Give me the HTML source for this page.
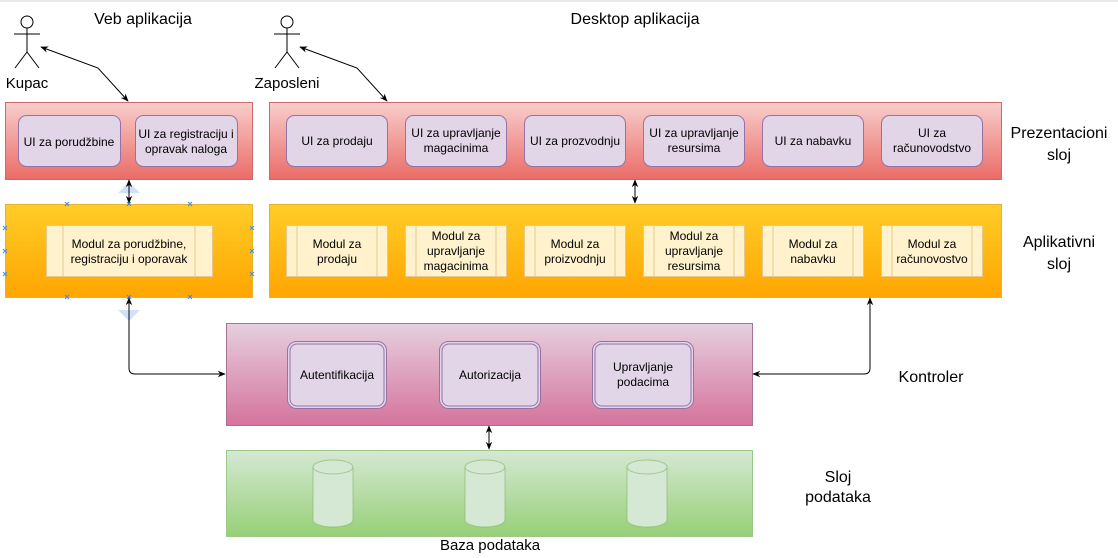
<!DOCTYPE html>
<html><head><meta charset="utf-8"><style>
html,body{margin:0;padding:0;background:#fff;}
svg{display:block;font-family:"Liberation Sans",sans-serif;}
</style></head><body>
<svg width="1118" height="558" viewBox="0 0 1118 558" xmlns="http://www.w3.org/2000/svg">
<defs>
<linearGradient id="gr" x1="0" y1="0" x2="0" y2="1"><stop offset="0" stop-color="#f8cecc"/><stop offset="1" stop-color="#ea6b66"/></linearGradient>
<linearGradient id="go" x1="0" y1="0" x2="0" y2="1"><stop offset="0" stop-color="#ffcd28"/><stop offset="1" stop-color="#ffa500"/></linearGradient>
<linearGradient id="gp" x1="0" y1="0" x2="0" y2="1"><stop offset="0" stop-color="#e6d0de"/><stop offset="1" stop-color="#d5739d"/></linearGradient>
<linearGradient id="gg" x1="0" y1="0" x2="0" y2="1"><stop offset="0" stop-color="#d5e8d4"/><stop offset="1" stop-color="#97d077"/></linearGradient>
<marker id="a" viewBox="0 0 10 10" refX="9" refY="5" markerWidth="8" markerHeight="8" orient="auto-start-reverse"><path d="M0,1 L10,5 L0,9 L3,5 z" fill="#000"/></marker>
</defs>
<rect x="0" y="0" width="1118" height="2" fill="#e8e8e8"/>
<!-- titles -->
<g font-size="16" fill="#000" text-anchor="middle">
<text x="143" y="24">Veb aplikacija</text>
<text x="635" y="24">Desktop aplikacija</text>
<text x="1059" y="138">Prezentacioni</text><text x="1059" y="160">sloj</text>
<text x="1059" y="247">Aplikativni</text><text x="1059" y="269">sloj</text>
<text x="931" y="382">Kontroler</text>
<text x="838" y="482">Sloj</text><text x="838" y="502">podataka</text>
<text x="490" y="550" font-size="15">Baza podataka</text>
<text x="27" y="88" font-size="15">Kupac</text>
<text x="287" y="88" font-size="15">Zaposleni</text>
</g>
<!-- actors -->
<g stroke="#000" fill="none" stroke-width="1">
<circle cx="27" cy="22" r="6" fill="#fff"/><line x1="27" y1="28" x2="27" y2="52"/><line x1="14" y1="34" x2="40" y2="34"/><line x1="27" y1="52" x2="15" y2="68"/><line x1="27" y1="52" x2="39" y2="68"/>
<circle cx="287" cy="22" r="6" fill="#fff"/><line x1="287" y1="28" x2="287" y2="52"/><line x1="274" y1="34" x2="300" y2="34"/><line x1="287" y1="52" x2="275" y2="68"/><line x1="287" y1="52" x2="299" y2="68"/>
</g>
<!-- layers -->
<rect x="5.5" y="102.5" width="247" height="77" fill="url(#gr)" stroke="#d06a66"/>
<rect x="269.5" y="102.5" width="732" height="77" fill="url(#gr)" stroke="#d06a66"/>
<rect x="5.5" y="204.5" width="247" height="93" fill="url(#go)" stroke="#e6b230"/>
<rect x="269.5" y="204.5" width="732" height="93" fill="url(#go)" stroke="#e6b230"/>
<rect x="226.5" y="323.5" width="526" height="102" fill="url(#gp)" stroke="#a67490"/>
<rect x="226.5" y="450.5" width="526" height="86" fill="url(#gg)" stroke="#9cc98a"/>
<!-- UI boxes -->
<g fill="#e1d5e7" stroke="#9673a6">
<rect x="18.5" y="115.5" width="102" height="51" rx="8"/>
<rect x="135.5" y="115.5" width="102" height="51" rx="8"/>
<rect x="286.5" y="115.5" width="101" height="51" rx="8"/>
<rect x="405.5" y="115.5" width="101" height="51" rx="8"/>
<rect x="524.5" y="115.5" width="101" height="51" rx="8"/>
<rect x="643.5" y="115.5" width="101" height="51" rx="8"/>
<rect x="762.5" y="115.5" width="101" height="51" rx="8"/>
<rect x="881.5" y="115.5" width="101" height="51" rx="8"/>
</g>
<g font-size="12" fill="#000" text-anchor="middle">
<text x="69" y="146">UI za porudžbine</text>
<text x="186" y="138">UI za registraciju i</text><text x="186" y="153">opravak naloga</text>
<text x="337" y="145">UI za prodaju</text>
<text x="456" y="137">UI za upravljanje</text><text x="456" y="152">magacinima</text>
<text x="575" y="145">UI za prozvodnju</text>
<text x="694" y="137">UI za upravljanje</text><text x="694" y="152">resursima</text>
<text x="813" y="145">UI za nabavku</text>
<text x="932" y="137">UI za</text><text x="932" y="152">računovodstvo</text>
</g>
<!-- modules -->
<g fill="#fff2cc" stroke="#e6c98a">
<rect x="46.5" y="225.5" width="166" height="51"/><line x1="63" y1="226" x2="63" y2="276"/><line x1="195" y1="226" x2="195" y2="276"/>
<rect x="286.5" y="225.5" width="101" height="51"/><line x1="297" y1="226" x2="297" y2="276"/><line x1="377" y1="226" x2="377" y2="276"/>
<rect x="405.5" y="225.5" width="101" height="51"/><line x1="416" y1="226" x2="416" y2="276"/><line x1="496" y1="226" x2="496" y2="276"/>
<rect x="524.5" y="225.5" width="101" height="51"/><line x1="535" y1="226" x2="535" y2="276"/><line x1="615" y1="226" x2="615" y2="276"/>
<rect x="643.5" y="225.5" width="101" height="51"/><line x1="654" y1="226" x2="654" y2="276"/><line x1="734" y1="226" x2="734" y2="276"/>
<rect x="762.5" y="225.5" width="101" height="51"/><line x1="773" y1="226" x2="773" y2="276"/><line x1="853" y1="226" x2="853" y2="276"/>
<rect x="881.5" y="225.5" width="101" height="51"/><line x1="892" y1="226" x2="892" y2="276"/><line x1="972" y1="226" x2="972" y2="276"/>
</g>
<g font-size="12" fill="#000" text-anchor="middle">
<text x="129" y="248">Modul za porudžbine,</text><text x="129" y="263">registraciju i oporavak</text>
<text x="337" y="248">Modul za</text><text x="337" y="263">prodaju</text>
<text x="456" y="240">Modul za</text><text x="456" y="255">upravljanje</text><text x="456" y="270">magacinima</text>
<text x="575" y="248">Modul za</text><text x="575" y="263">proizvodnju</text>
<text x="694" y="240">Modul za</text><text x="694" y="255">upravljanje</text><text x="694" y="270">resursima</text>
<text x="813" y="248">Modul za</text><text x="813" y="263">nabavku</text>
<text x="932" y="248">Modul za</text><text x="932" y="263">računovostvo</text>
</g>
<!-- controller boxes -->
<g fill="#e1d5e7" stroke="#9673a6">
<rect x="287.5" y="341.5" width="99" height="67" rx="9"/><rect x="290" y="344" width="94" height="62" rx="7" fill="none"/>
<rect x="439.5" y="341.5" width="101" height="67" rx="9"/><rect x="442" y="344" width="96" height="62" rx="7" fill="none"/>
<rect x="592.5" y="341.5" width="101" height="67" rx="9"/><rect x="595" y="344" width="96" height="62" rx="7" fill="none"/>
</g>
<g font-size="12" fill="#000" text-anchor="middle">
<text x="337" y="379">Autentifikacija</text>
<text x="490" y="379">Autorizacija</text>
<text x="643" y="371">Upravljanje</text><text x="643" y="386">podacima</text>
</g>
<!-- cylinders -->
<g fill="#d5e8d4" stroke="#82b366" stroke-opacity="0.6">
<path d="M313,467 v53 a20,7 0 0 0 40,0 v-53"/><ellipse cx="333" cy="467" rx="20" ry="7"/>
<path d="M465,467 v53 a20,7 0 0 0 40,0 v-53"/><ellipse cx="485" cy="467" rx="20" ry="7"/>
<path d="M627,467 v53 a20,7 0 0 0 40,0 v-53"/><ellipse cx="647" cy="467" rx="20" ry="7"/>
</g>
<!-- selection hints -->
<path d="M118,193 L140,193 L129,182 z" fill="#cfe2f7"/>
<path d="M118,310 L140,310 L129,321 z" fill="#cfe2f7"/>
<g stroke="#3a8ee6" stroke-width="1" font-size="0">
<path d="M65,202 l4,4 m0,-4 l-4,4 M127,202 l4,4 m0,-4 l-4,4 M188,202 l4,4 m0,-4 l-4,4 M65,295 l4,4 m0,-4 l-4,4 M127,295 l4,4 m0,-4 l-4,4 M188,295 l4,4 m0,-4 l-4,4 M3,226 l4,4 m0,-4 l-4,4 M3,249 l4,4 m0,-4 l-4,4 M3,272 l4,4 m0,-4 l-4,4 M250,226 l4,4 m0,-4 l-4,4 M250,249 l4,4 m0,-4 l-4,4 M250,272 l4,4 m0,-4 l-4,4"/>
</g>
<!-- connectors -->
<g stroke="#000" fill="none" stroke-width="1">
<path d="M41,47 L98,68 L128,101" marker-start="url(#a)" marker-end="url(#a)"/>
<path d="M300,47 L357,68 L387,101" marker-start="url(#a)" marker-end="url(#a)"/>
<path d="M129,180 L129,203" marker-start="url(#a)" marker-end="url(#a)"/>
<path d="M635,180 L635,203" marker-start="url(#a)" marker-end="url(#a)"/>
<path d="M489,426 L489,449" marker-start="url(#a)" marker-end="url(#a)"/>
<path d="M129,298 L129,368 Q129,374 135,374 L225,374" marker-start="url(#a)" marker-end="url(#a)"/>
<path d="M753,374 L864,374 Q870,374 870,368 L870,298" marker-start="url(#a)" marker-end="url(#a)"/>
</g>
</svg>
</body></html>
